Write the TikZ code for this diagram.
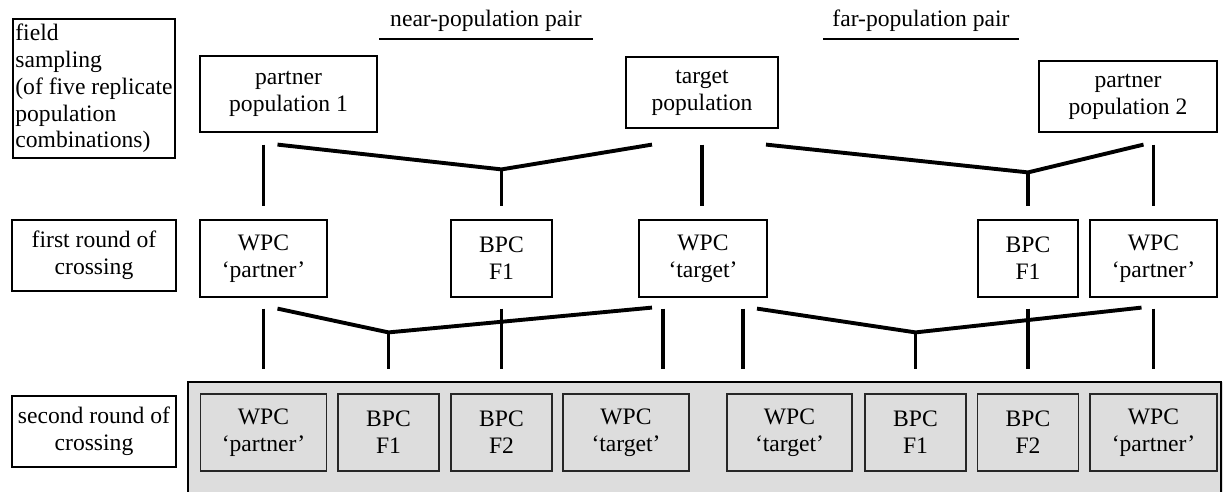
\documentclass[tikz,border=0pt]{standalone}
\usepackage{fontspec}
\setmainfont{Liberation Serif}
\usetikzlibrary{calc}
\definecolor{bggray}{RGB}{221,221,221}
\begin{document}
\begin{tikzpicture}[x=1pt,y=-1pt,
  font=\fontsize{23.6}{26.8}\selectfont,
  box/.style={draw, line width=1.2pt, inner sep=0pt, align=center},
  grbox/.style={box, fill=bggray, draw=black!85},
  conn/.style={line width=3.9pt},
  uline/.style={line width=2pt}]
\useasboundingbox (0,0) rectangle (1223,492);
% grey panel of the second round
\fill[bggray] (188,382) rectangle (1223,492);
\draw[line width=1.4pt] (188,492) -- (188,382) -- (1221,382) -- (1221,492);

% row labels
\node[box, align=left, minimum width=162, minimum height=139] (fs) at (94,88.5)
  {field\\sampling\\(of five replicate\\population\\combinations)};
\node[box, minimum width=164, minimum height=71] (fr) at (94,255.5) {first round of\\crossing};
\node[box, minimum width=164, minimum height=71] (sr) at (94,431.5) {second round of\\crossing};

% headings
\node[anchor=base] (nearH) at (486,27) {near-population pair};
\node[anchor=base] (farH) at (921,27) {far-population pair};
\draw[uline] ($(nearH.base)+(-107,12)$) -- ($(nearH.base)+(107,12)$);
\draw[uline] ($(farH.base)+(-98,12)$) -- ($(farH.base)+(98,12)$);

% row 1
\node[box, minimum width=177, minimum height=76] (p1) at (288.5,94) {partner\\population 1};
\node[box, minimum width=152, minimum height=71] (tg) at (702,92.5) {target\\population};
\node[box, minimum width=178, minimum height=71] (p2) at (1128,96.5) {partner\\population 2};

% row 2
\node[box, minimum width=127, minimum height=77] (a1) at (263.5,258.5) {WPC\\‘partner’};
\node[box, minimum width=101, minimum height=77] (a2) at (501.5,258.5) {BPC\\F1};
\node[box, minimum width=128, minimum height=77] (a3) at (703,258.5) {WPC\\‘target’};
\node[box, minimum width=100, minimum height=77] (a4) at (1028,258.5) {BPC\\F1};
\node[box, minimum width=127, minimum height=77] (a5) at (1153.5,258.5) {WPC\\‘partner’};

% row 3
\node[grbox, minimum width=126, minimum height=77] (b1) at (263.5,432.5) {WPC\\‘partner’};
\node[grbox, minimum width=101, minimum height=77] (b2) at (388.5,432.5) {BPC\\F1};
\node[grbox, minimum width=101, minimum height=77] (b3) at (501.5,432.5) {BPC\\F2};
\node[grbox, minimum width=126, minimum height=77] (b4) at (626,432.5) {WPC\\‘target’};
\node[grbox, minimum width=125, minimum height=77] (b5) at (789.5,432.5) {WPC\\‘target’};
\node[grbox, minimum width=101, minimum height=77] (b6) at (915.5,432.5) {BPC\\F1};
\node[grbox, minimum width=101, minimum height=77] (b7) at (1028,432.5) {BPC\\F2};
\node[grbox, minimum width=127, minimum height=77] (b8) at (1153.5,432.5) {WPC\\‘partner’};

% connectors: field sampling -> first round
\coordinate (J1) at ($(a2.north)+(0,-50)$);
\coordinate (J2) at ($(a4.north)+(0,-47)$);
\draw[conn] ($(a1.north |- p1.south)+(0,12)$) -- ($(a1.north)+(0,-13)$);
\draw[conn] ($(a1.north |- p1.south)+(14,12)$) -- (J1) -- ($(tg.south)+(-50,16)$);
\draw[conn] (J1) -- ($(a2.north)+(0,-13)$);
\draw[conn] ($(a3.north |- tg.south)+(-1,16)$) -- ($(a3.north)+(-1,-13)$);
\draw[conn] ($(tg.south)+(64,16)$) -- (J2) -- ($(a5.north |- p2.south)+(-10,12)$);
\draw[conn] (J2) -- ($(a4.north)+(0,-13)$);
\draw[conn] ($(a5.north |- p2.south)+(0,12)$) -- ($(a5.north)+(0,-13)$);

% connectors: first round -> second round
\coordinate (J3) at ($(b2.north)+(0,-61)$);
\coordinate (J4) at ($(b6.north)+(0,-61)$);
\draw[conn] ($(a1.south)+(0,11)$) -- ($(b1.north)+(0,-24)$);
\draw[conn] ($(a1.south)+(14,11)$) -- (J3) -- ($(a3.south)+(-51,10)$);
\draw[conn] (J3) -- ($(b2.north)+(0,-24)$);
\draw[conn] ($(a2.south)+(0,11)$) -- ($(b3.north)+(0,-24)$);
\draw[conn] ($(a3.south)+(-40,11)$) -- ($(b4.north -| a3.south)+(-40,-24)$);
\draw[conn] ($(a3.south)+(40,11)$) -- ($(b5.north -| a3.south)+(40,-24)$);
\draw[conn] ($(a3.south)+(54,11)$) -- (J4) -- ($(a5.south)+(-12,10)$);
\draw[conn] (J4) -- ($(b6.north)+(0,-24)$);
\draw[conn] ($(a4.south)+(0,11)$) -- ($(b7.north)+(0,-24)$);
\draw[conn] ($(a5.south)+(0,11)$) -- ($(b8.north)+(0,-24)$);
\end{tikzpicture}
\end{document}
